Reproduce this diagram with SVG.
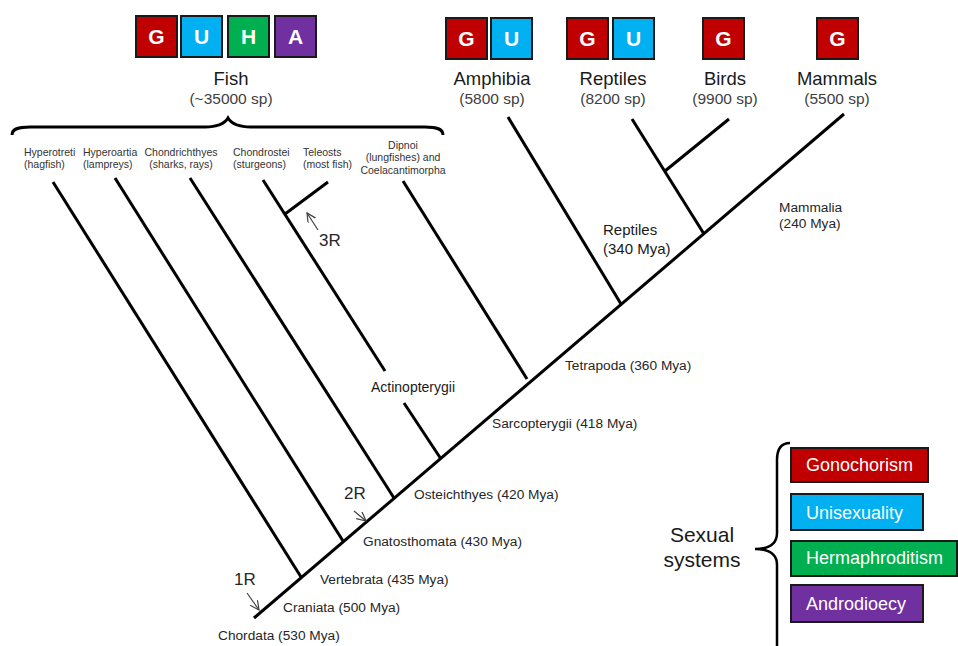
<svg xmlns="http://www.w3.org/2000/svg" width="958" height="646" viewBox="0 0 958 646">
<defs>
<style>
.br{stroke:#000;stroke-width:3;fill:none;stroke-linecap:butt}
.box{stroke:#1a1a1a;stroke-width:2}
.g{fill:#C00000}.u{fill:#00B0F0}.h{fill:#00B050}.a{fill:#7030A0}
.lt{font-family:"Liberation Sans",Arial,sans-serif;font-weight:bold;font-size:21px;fill:#fff;text-anchor:middle}
.tx{font-family:"Liberation Sans",Arial,sans-serif;fill:#1a1a1a}
.big{font-size:18.5px;text-anchor:middle}
.sp{font-size:15.5px;fill:#404040;text-anchor:middle}
.sm{font-size:10.5px;fill:#333}
.mid{text-anchor:middle}
.my{font-size:13.7px;fill:#262626}
.rr{font-size:17px;fill:#262626}
.lg{font-family:"Liberation Sans",Arial,sans-serif;font-size:18px;fill:#fff}
.lb{stroke:#1a1a1a;stroke-width:2}
.arr{stroke:#404040;stroke-width:1.2;fill:none;marker-end:url(#ah)}
</style>
<marker id="ah" markerWidth="11" markerHeight="11" refX="9" refY="4.5" orient="auto" markerUnits="userSpaceOnUse">
<path d="M0,0 L9,4.5 L0,9" fill="none" stroke="#404040" stroke-width="1.2"/>
</marker>
</defs>
<rect width="958" height="646" fill="#fff"/>

<g id="connectors">
<line class="br" x1="254" y1="618" x2="844" y2="114"/>
<line class="br" x1="53" y1="182" x2="301" y2="577"/>
<line class="br" x1="115" y1="178" x2="343" y2="541"/>
<line class="br" x1="190" y1="178" x2="394" y2="498"/>
<line class="br" x1="263" y1="180" x2="385" y2="371"/>
<line class="br" x1="285" y1="214" x2="328" y2="182"/>
<line class="br" x1="404" y1="403" x2="441" y2="459"/>
<line class="br" x1="403" y1="181" x2="527" y2="379"/>
<line class="br" x1="508" y1="117" x2="621" y2="304"/>
<line class="br" x1="632" y1="119" x2="704" y2="234"/>
<line class="br" x1="665" y1="171" x2="729" y2="119"/>
<path class="br" d="M12,135 C12,129 18,127 30,127 L205,127 C218,127 225,123 228,118 C231,123 238,127 251,127 L425,127 C437,127 443,129 443,135" stroke-width="2.5"/>
<line class="arr" x1="247" y1="593" x2="259" y2="610"/>
<line class="arr" x1="354" y1="511" x2="366" y2="521"/>
<line class="arr" x1="318" y1="230" x2="307" y2="213"/>
</g>

<g id="fish">
<rect class="box g" x="136" y="16" width="41" height="41"/>
<rect class="box u" x="181" y="16" width="41" height="41"/>
<rect class="box h" x="228" y="16" width="41" height="41"/>
<rect class="box a" x="275" y="16" width="41" height="41"/>
<text class="lt" x="156.5" y="44">G</text>
<text class="lt" x="201.5" y="44">U</text>
<text class="lt" x="248.5" y="44">H</text>
<text class="lt" x="295.5" y="44">A</text>
<text class="tx big" x="231" y="85">Fish</text>
<text class="tx sp" x="231" y="104">(~35000 sp)</text>
</g>

<g id="amphibia">
<rect class="box g" x="446" y="18" width="41" height="41"/>
<rect class="box u" x="491" y="18" width="41" height="41"/>
<text class="lt" x="466.5" y="46">G</text>
<text class="lt" x="511.5" y="46">U</text>
<text class="tx big" x="492" y="85">Amphibia</text>
<text class="tx sp" x="492" y="104">(5800 sp)</text>
</g>

<g id="reptiles">
<rect class="box g" x="567" y="18" width="41" height="41"/>
<rect class="box u" x="613" y="18" width="41" height="41"/>
<text class="lt" x="587.5" y="46">G</text>
<text class="lt" x="633.5" y="46">U</text>
<text class="tx big" x="613" y="85">Reptiles</text>
<text class="tx sp" x="613" y="104">(8200 sp)</text>
</g>

<g id="birds">
<rect class="box g" x="703" y="18" width="41" height="41"/>
<text class="lt" x="723.5" y="46">G</text>
<text class="tx big" x="725" y="85">Birds</text>
<text class="tx sp" x="725" y="104">(9900 sp)</text>
</g>

<g id="mammals">
<rect class="box g" x="817" y="18" width="41" height="41"/>
<text class="lt" x="837.5" y="46">G</text>
<text class="tx big" x="837" y="85">Mammals</text>
<text class="tx sp" x="837" y="104">(5500 sp)</text>
</g>

<g id="fish-groups">
<text class="tx sm" x="24" y="156">Hyperotreti</text>
<text class="tx sm" x="24" y="168">(hagfish)</text>
<text class="tx sm" x="83" y="156">Hyperoartia</text>
<text class="tx sm" x="83" y="168">(lampreys)</text>
<text class="tx sm mid" x="181" y="156">Chondrichthyes</text>
<text class="tx sm mid" x="181" y="168">(sharks, rays)</text>
<text class="tx sm" x="233" y="156">Chondrostei</text>
<text class="tx sm" x="233" y="168">(sturgeons)</text>
<text class="tx sm" x="303" y="156">Teleosts</text>
<text class="tx sm" x="303" y="168">(most fish)</text>
<text class="tx sm mid" x="403" y="149">Dipnoi</text>
<text class="tx sm mid" x="403" y="161">(lungfishes) and</text>
<text class="tx sm mid" x="403" y="174">Coelacantimorpha</text>
</g>

<g id="clade-labels">
<text class="tx my" x="218" y="640">Chordata (530 Mya)</text>
<text class="tx my" x="283" y="612">Craniata (500 Mya)</text>
<text class="tx my" x="320" y="584">Vertebrata (435 Mya)</text>
<text class="tx my" x="363" y="546">Gnatosthomata (430 Mya)</text>
<text class="tx my" x="414" y="499">Osteichthyes (420 Mya)</text>
<text class="tx my" x="492" y="428">Sarcopterygii (418 Mya)</text>
<text class="tx my" x="565" y="370">Tetrapoda (360 Mya)</text>
<text class="tx" x="371" y="392" font-size="14px" fill="#262626">Actinopterygii</text>
<text class="tx" x="603" y="235" font-size="15px" fill="#333">Reptiles</text>
<text class="tx" x="603" y="254" font-size="15px" fill="#333">(340 Mya)</text>
<text class="tx my" x="779" y="212">Mammalia</text>
<text class="tx my" x="779" y="228">(240 Mya)</text>
<text class="tx rr" x="234" y="585">1R</text>
<text class="tx rr" x="344" y="499">2R</text>
<text class="tx rr" x="319" y="246">3R</text>
</g>

<g id="legend">
<path d="M790,443 C781,443 777,449 777,460 L777,533 C777,544 770,549 755,549 C770,549 777,554 777,565 L777,646" fill="none" stroke="#000" stroke-width="2.5"/>
<text class="tx" x="702" y="542" font-size="21px" text-anchor="middle">Sexual</text>
<text class="tx" x="702" y="567" font-size="21px" text-anchor="middle">systems</text>
<rect class="lb g" x="791" y="448" width="137" height="34"/>
<rect class="lb u" x="791" y="494" width="132" height="36"/>
<rect class="lb h" x="791" y="541" width="166" height="35"/>
<rect class="lb a" x="791" y="585" width="132" height="37"/>
<text class="lg" x="806" y="471">Gonochorism</text>
<text class="lg" x="806" y="519">Unisexuality</text>
<text class="lg" x="806" y="564">Hermaphroditism</text>
<text class="lg" x="806" y="610">Androdioecy</text>
</g>
</svg>
